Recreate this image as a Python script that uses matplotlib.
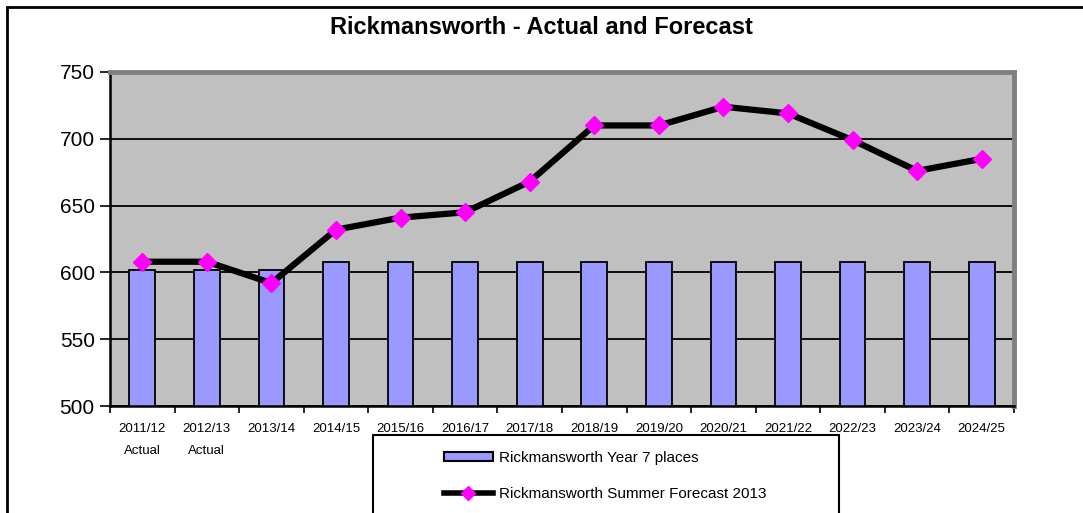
import numpy as np
import matplotlib.pyplot as plt
import matplotlib as mpl
from matplotlib.patches import Rectangle, Patch
from matplotlib.lines import Line2D

# data
years = ["2011/12", "2012/13", "2013/14", "2014/15", "2015/16", "2016/17", "2017/18",
         "2018/19", "2019/20", "2020/21", "2021/22", "2022/23", "2023/24", "2024/25"]
year_notes = ["Actual", "Actual", "", "", "", "", "", "", "", "", "", "", "", ""]
places = [602, 602, 602, 608, 608, 608, 608, 608, 608, 608, 608, 608, 608, 608]
forecast = [608, 608, 592, 632, 641, 645, 668, 710, 710, 724, 719, 699, 676, 685]

mpl.rcParams.update({
    'font.family': ['Liberation Sans', 'DejaVu Sans'],
})

W, H = 1083, 513
fig = plt.figure(figsize=(W / 100, H / 100), dpi=100)

# outer chart border (only top/left visible in the original crop)
fig.patches.append(Rectangle((7 / W, -0.1), 1.2, (H - 7) / H + 0.1,
                             transform=fig.transFigure, fill=False,
                             edgecolor='black', lw=2))

ax = fig.add_axes([110 / W, 1 - 406 / H, (1014 - 110) / W, (406 - 72) / H])
ax.set_facecolor('#C0C0C0')

x = np.arange(len(years))
ax.bar(x, places, width=0.4, color='#9999FF', edgecolor='black', lw=1.3, zorder=2)
ax.plot(x, forecast, color='black', lw=4.5, zorder=3,
        marker='D', ms=9, mfc='#FF00FF', mec='#FF00FF')

ax.set_xlim(-0.5, len(years) - 0.5)
ax.set_ylim(500, 750)
ax.set_yticks([500, 550, 600, 650, 700, 750])
ax.yaxis.grid(True, color='black', lw=1.3, zorder=1)
ax.set_axisbelow(True)
ax.tick_params(axis='y', labelsize=15, length=7, width=1.2, pad=4)

labels = [f"{y}\n{n}" if n else y for y, n in zip(years, year_notes)]
ax.set_xticks(x)
ax.set_xticklabels(labels, fontsize=9.5, linespacing=2.1, va='top')
ax.tick_params(axis='x', length=0, pad=12)
ax.set_xticks(np.arange(-0.5, len(years)), minor=True)
ax.tick_params(axis='x', which='minor', length=5, width=1.2, direction='out')

for s in ['top', 'right']:
    ax.spines[s].set_color('#808080')
    ax.spines[s].set_linewidth(3.5)
for s in ['left', 'bottom']:
    ax.spines[s].set_color('black')
    ax.spines[s].set_linewidth(1.8)

fig.text(541 / W, 1 - 28 / H, "Rickmansworth - Actual and Forecast",
         ha='center', va='center', fontsize=17, fontweight='bold')

# legend box runs off the bottom of the picture
fig.patches.append(Rectangle((373 / W, -0.1), (839 - 373) / W, (H - 435) / H + 0.1,
                             transform=fig.transFigure, facecolor='white',
                             edgecolor='black', lw=1.5, zorder=5))
handles = [Patch(facecolor='#9999FF', edgecolor='black', lw=1.5),
           Line2D([], [], color='black', lw=4, marker='D', ms=7,
                  mfc='#FF00FF', mec='#FF00FF')]
leg = fig.legend(handles, ["Rickmansworth Year 7 places",
                           "Rickmansworth Summer Forecast 2013"],
                 loc='upper left', bbox_to_anchor=(436 / W, 1 - 443 / H),
                 frameon=False, fontsize=11, handlelength=3.2, handleheight=0.55,
                 handletextpad=0.4, labelspacing=1.45, borderpad=0)
leg.set_zorder(6)

plt.savefig("out.png", dpi=100)
